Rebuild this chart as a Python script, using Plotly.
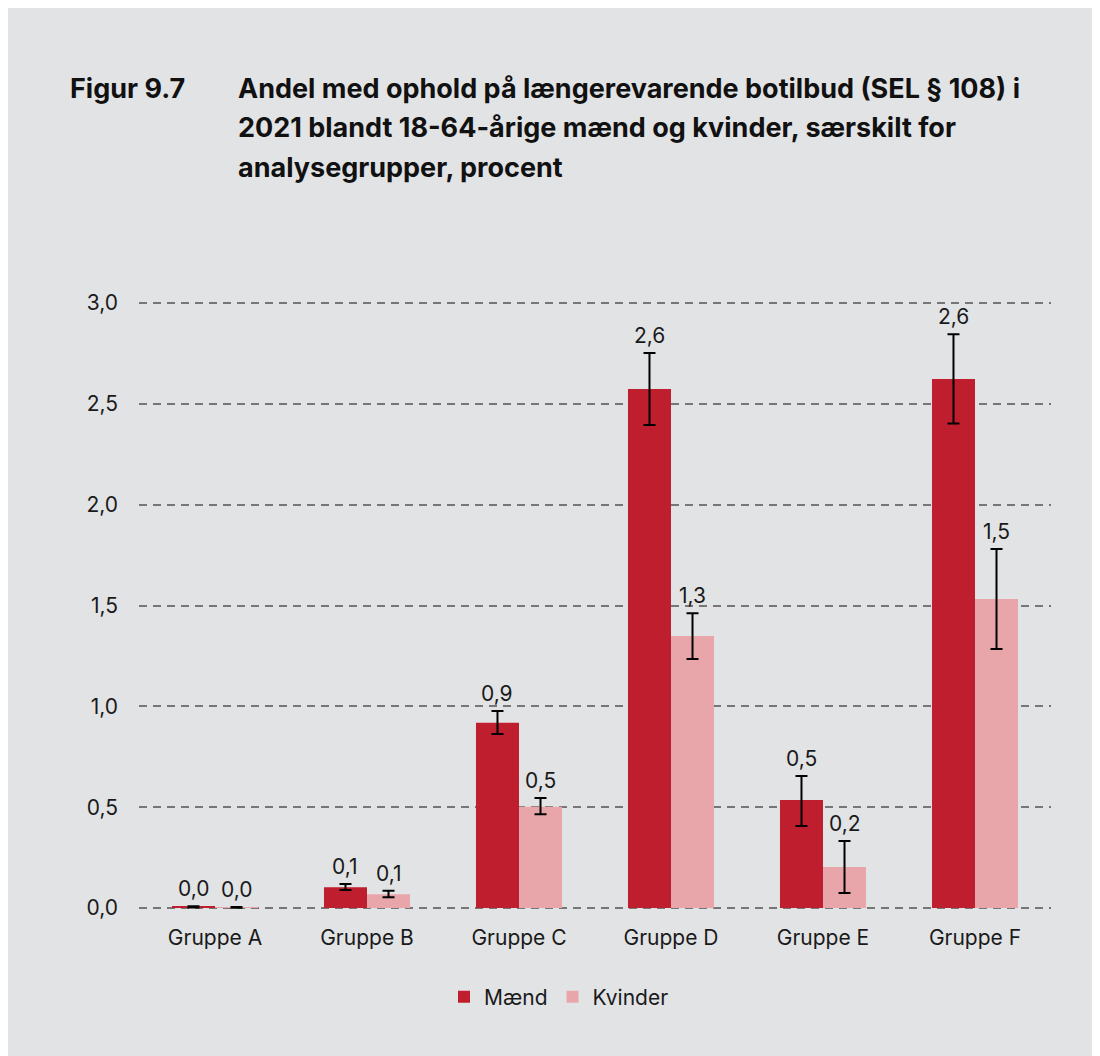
import plotly.graph_objects as go

# data
groups = ["Gruppe A", "Gruppe B", "Gruppe C", "Gruppe D", "Gruppe E", "Gruppe F"]
maend = [0.005, 0.103, 0.919, 2.573, 0.535, 2.623]
maend_hi = [0.008, 0.119, 0.977, 2.752, 0.654, 2.845]
maend_lo = [0.002, 0.089, 0.863, 2.395, 0.407, 2.403]
kvinder = [0.003, 0.068, 0.502, 1.349, 0.203, 1.532]
kvinder_hi = [0.005, 0.086, 0.545, 1.461, 0.332, 1.780]
kvinder_lo = [0.001, 0.053, 0.465, 1.235, 0.074, 1.284]
y_ticks = [0.0, 0.5, 1.0, 1.5, 2.0, 2.5, 3.0]

title_label = "Figur 9.7"
title_lines = [
    "Andel med ophold på længerevarende botilbud (SEL § 108) i",
    "2021 blandt 18-64-årige mænd og kvinder, særskilt for",
    "analysegrupper, procent",
]

red = "rgb(190, 30, 46)"
pink = "rgb(232, 166, 171)"
panel = "rgb(226, 227, 229)"
grid_color = "rgb(118, 118, 118)"
font = "Inter, Roboto, Arial, sans-serif"

# page has an 8px body margin, so work in figure coordinates
W, H = 1100, 1056
ml, mr, mt, mb = 131, 57, 293, 154
pw = W - ml - mr
ph = H - mt - mb


def px_x(x):
    return (x - ml) / pw


def px_y(y):
    return (H - mb - y) / ph


fig = go.Figure()

fig.add_trace(go.Bar(
    x=groups, y=maend, name="Mænd",
    marker=dict(color=red, line=dict(width=0)),
    error_y=dict(type="data", symmetric=False,
                 array=[h - v for h, v in zip(maend_hi, maend)],
                 arrayminus=[v - l for l, v in zip(maend_lo, maend)],
                 color="black", thickness=2, width=6),
))
fig.add_trace(go.Bar(
    x=groups, y=kvinder, name="Kvinder",
    marker=dict(color=pink, line=dict(width=0)),
    error_y=dict(type="data", symmetric=False,
                 array=[h - v for h, v in zip(kvinder_hi, kvinder)],
                 arrayminus=[v - l for l, v in zip(kvinder_lo, kvinder)],
                 color="black", thickness=2, width=6),
))

# value labels above the error bars
bar_px = pw / len(groups) * 0.283
for vals, tops, shift in [(maend, maend_hi, -bar_px / 2), (kvinder, kvinder_hi, bar_px / 2)]:
    for g, v, t in zip(groups, vals, tops):
        fig.add_annotation(
            x=g, y=t, xref="x", yref="y", text=f"{v:.1f}".replace(".", ","),
            showarrow=False, xshift=shift, yshift=3, yanchor="bottom",
            font=dict(family=font, size=21, color="#1a1a1a"),
        )

# title
fig.add_annotation(x=px_x(60), y=px_y(80), xref="paper", yref="paper",
                   text="<b>" + title_label + "</b>", showarrow=False,
                   xanchor="left", yanchor="middle",
                   font=dict(family=font, size=27, color="#111"))
for i, line in enumerate(title_lines):
    fig.add_annotation(x=px_x(228), y=px_y(80 + i * 39.5), xref="paper", yref="paper",
                       text="<b>" + line + "</b>", showarrow=False,
                       xanchor="left", yanchor="middle",
                       font=dict(family=font, size=27, color="#111"))

fig.update_layout(
    width=W, height=H,
    margin=dict(l=ml, r=mr, t=mt, b=mb),
    paper_bgcolor=panel,
    plot_bgcolor=panel,
    barmode="group",
    bargap=0.434,
    bargroupgap=0,
    separators=",.",
    font=dict(family=font, size=21, color="#1a1a1a"),
    legend=dict(orientation="h", x=px_x(551), xanchor="center",
                y=px_y(989), yanchor="middle",
                font=dict(family=font, size=21), itemwidth=30,
                bgcolor="rgba(0,0,0,0)"),
)

fig.update_xaxes(showline=False, showgrid=False, ticks="", ticklabelstandoff=13,
                 tickfont=dict(family=font, size=21))
fig.update_yaxes(range=[-0.01, 3.01], tickvals=y_ticks, tickformat=".1f",
                 showgrid=True, gridcolor=grid_color, gridwidth=2,
                 griddash="8px,6px", zeroline=False, showline=False,
                 ticks="", ticklabelstandoff=20,
                 tickfont=dict(family=font, size=21))

fig.write_html("out.html")
